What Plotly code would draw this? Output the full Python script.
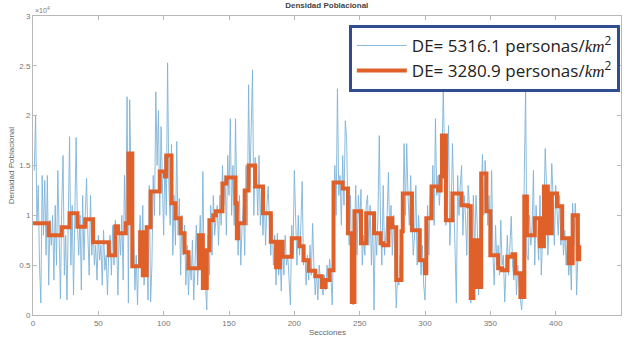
import plotly.graph_objects as go

# Blue series (x10^4 personas/km^2), sections 1..418
blue = [
    1.45, 2.0, 0.9, 1.3, 0.5, 0.12, 1.4, 0.8, 1.35, 0.6,
    1.4, 0.3, 0.95, 0.7, 1.0, 0.35, 1.1, 0.5, 1.45, 0.9,
    0.16, 1.1, 1.6, 0.4, 0.8, 0.15, 1.2, 1.79, 0.5, 1.1,
    0.2, 1.3, 1.78, 0.9, 0.6, 1.0, 0.25, 1.2, 0.55, 1.0,
    1.37, 0.8, 0.4, 1.2, 0.6, 0.9, 0.5, 0.7, 0.35, 0.8,
    0.55, 0.7, 0.3, 0.85, 0.45, 0.6, 0.2, 0.65, 0.8, 0.4,
    0.9, 0.5, 0.95, 0.75, 0.2, 0.9, 0.6, 1.0, 0.35, 1.4,
    0.8, 2.19, 0.12, 2.16, 1.3, 0.5, 0.9, 0.25, 0.6, 0.1,
    0.7, 1.0, 0.5, 1.1, 0.3, 0.6, 0.9, 0.15, 1.3, 0.13,
    0.5, 1.4, 1.0, 2.24, 1.5, 2.05, 1.0, 1.89, 1.3, 0.8,
    1.6, 1.0, 2.53, 1.3, 0.9, 1.71, 0.6, 1.2, 0.7, 1.74,
    0.8, 1.17, 0.4, 1.0, 0.6, 0.9, 0.3, 0.7, 0.2, 0.6,
    0.35, 0.75, 0.15, 0.5, 0.9, 0.3, 0.6, 1.0, 0.5, 1.44,
    0.4, 0.3, 0.05, 0.8, 0.4, 1.1, 0.6, 1.2, 0.8, 1.0,
    1.1, 0.7, 1.2, 0.9, 1.5, 1.1, 1.4, 0.8, 1.6, 1.2,
    1.97, 1.0, 1.5, 0.9, 1.97, 1.1, 0.6, 1.2, 0.5, 0.9,
    1.1, 0.6, 1.5, 0.9, 2.31, 1.3, 1.8, 2.46, 1.0, 1.58,
    1.45, 1.0, 1.6, 0.9, 1.3, 0.8, 1.2, 0.7, 1.1, 1.29,
    0.9, 0.6, 1.0, 0.5, 0.8, 0.3, 0.82, 0.4, 0.6, 0.24,
    0.7, 0.4, 0.8, 0.5, 0.6, 0.3, 0.1, 0.9, 0.6, 1.45,
    0.8, 0.5, 1.0, 0.6, 0.9, 1.34, 0.5, 0.7, 0.3, 0.6,
    0.35, 0.7, 0.4, 0.92, 0.5, 0.2, 0.45, 0.15, 0.5, 0.35,
    0.3, 0.2, 0.4, 0.25, 0.5, 0.35, 0.56, 0.4, 0.1, 0.9,
    1.5, 1.0, 2.27, 1.2, 1.4, 0.9, 1.6, 1.1, 1.95, 1.78,
    1.0, 0.7, 1.2, 0.3, 0.1, 0.8, 1.3, 0.6, 1.2, 0.9,
    1.26, 0.5, 0.8, 0.6, 1.1, 1.2, 0.7, 1.1, 0.5, 1.0,
    0.05, 0.9, 0.6, 1.0, 1.80, 0.9, 0.5, 1.3, 0.6, 0.8,
    1.0, 1.43, 0.8, 1.1, 0.6, 1.0, 0.5, 0.07, 0.4, 0.3,
    0.6, 0.4, 0.9, 1.72, 1.0, 1.72, 1.2, 0.9, 1.4, 1.0,
    0.6, 0.8, 1.3, 0.5, 1.0, 0.8, 0.4, 0.7, 0.3, 0.15,
    0.8, 1.1, 0.6, 1.2, 1.0, 1.5, 0.9, 1.97, 1.2, 1.4,
    1.1, 1.3, 1.6, 2.26, 1.4, 0.9, 1.2, 1.90, 0.7, 1.0,
    1.72, 1.2, 0.9, 0.12, 1.4, 1.0, 1.3, 1.5, 0.8, 1.2,
    1.0, 0.6, 1.3, 1.1, 0.12, 0.3, 1.2, 0.6, 1.2, 0.9,
    0.2, 0.5, 1.2, 1.61, 1.0, 1.55, 1.3, 0.9, 1.2, 0.8,
    1.45, 0.6, 0.3, 0.9, 0.5, 0.7, 0.4, 0.95, 0.5, 0.6,
    0.13, 0.5, 0.8, 0.4, 0.7, 0.99, 0.5, 0.35, 0.6, 0.2,
    0.5, 0.3, 0.15, 0.05, 0.3, 1.4, 2.26, 0.6, 0.55, 1.0,
    0.7, 0.9, 1.45, 0.5, 1.1, 0.8, 0.55, 1.2, 0.4, 0.8,
    1.0, 1.67, 1.3, 0.6, 0.9, 1.0, 1.52, 1.2, 0.7, 1.3,
    1.0, 0.8, 1.2, 0.7, 0.9, 0.6, 0.85, 0.5, 0.75, 0.4,
    0.6, 0.25, 1.12, 0.7, 1.12, 0.2, 0.6, 0.8,
]
sections = list(range(1, len(blue) + 1))

# Orange step series: start of each step (section) and its level (x10^4)
step_start = [
    0, 12, 22, 28, 34, 40, 46, 58, 63, 65, 71, 73, 76, 82, 84, 87, 90, 97,
    101, 102, 106, 109, 113, 116, 119, 127, 130, 133, 135, 138, 140, 145,
    148, 155, 156, 157, 162, 165, 170, 176, 182, 186, 189, 191, 198, 204,
    207, 211, 216, 221, 224, 227, 230, 237, 241, 244, 246, 251, 255, 261,
    266, 268, 272, 275, 278, 282, 283, 290, 296, 300, 301, 305, 310, 312,
    313, 316, 321, 328, 333, 335, 337, 340, 343, 347, 350, 356, 359, 363,
    367, 369, 373, 376, 378, 384, 388, 391, 394, 397, 401, 405, 410, 413,
    417, 418,
]
step_level = [
    0.92, 0.80, 0.88, 1.02, 0.886, 0.96, 0.73, 0.60, 0.89, 0.82, 0.92, 1.62,
    0.49, 0.83, 0.40, 0.88, 1.24, 1.44, 1.39, 1.60, 1.12, 0.97, 0.82, 0.63,
    0.47, 0.80, 0.27, 0.65, 0.95, 1.00, 1.04, 1.32, 1.38, 1.12, 0.77, 0.92,
    1.25, 1.50, 1.29, 1.02, 0.735, 0.48, 0.735, 0.585, 0.77, 0.69, 0.55,
    0.445, 0.39, 0.28, 0.35, 0.45, 1.33, 1.27, 0.82, 0.13, 1.04, 0.72, 1.02,
    0.82, 0.72, 0.70, 0.97, 0.88, 0.35, 0.84, 1.22, 0.85, 0.55, 0.42, 0.97,
    1.29, 1.25, 1.39, 1.80, 0.95, 1.22, 1.10, 1.09, 0.17, 0.75, 0.28, 1.42,
    1.04, 0.60, 0.47, 0.45, 0.585, 0.61, 0.42, 0.18, 1.19, 0.80, 0.97, 0.69,
    1.29, 0.82, 1.22, 1.09, 0.77, 0.52, 1.00, 0.56, 0.70,
]

x_ticks = [0, 50, 100, 150, 200, 250, 300, 350, 400, 450]
y_ticks = [0, 0.5, 1, 1.5, 2, 2.5, 3]
y_tick_text = ["0", "0.5", "1", "1.5", "2", "2.5", "3"]

km2 = ("<span style=\"font-family:'Liberation Serif'\"><i>km</i></span>"
       "<sup>2</sup>")
name_blue = "DE= 5316.1 personas/" + km2
name_orange = "DE= 3280.9 personas/" + km2

fig = go.Figure()
fig.add_trace(go.Scatter(
    x=sections, y=blue, mode="lines", name=name_blue,
    line=dict(color="#7fb3d8", width=0.9),
))
fig.add_trace(go.Scatter(
    x=step_start, y=step_level, mode="lines", name=name_orange,
    line=dict(color="#e0602a", width=4, shape="hv"),
))

axis_common = dict(
    showgrid=False, zeroline=False, showline=True, mirror="ticks",
    linecolor="#b8b8b8", linewidth=1, ticks="inside", ticklen=4,
    tickcolor="#b8b8b8", automargin=False,
    tickfont=dict(size=8, color="#777777", family="Liberation Sans"),
)

small = dict(size=8, color="#666666", family="Liberation Sans")

fig.update_layout(
    width=626, height=341,
    margin=dict(l=33, r=5, t=16, b=26),
    paper_bgcolor="white", plot_bgcolor="white",
    showlegend=True,
    title=dict(text="<b>Densidad Poblacional</b>", x=0.522, xanchor="center",
               y=0.993, yanchor="top",
               font=dict(size=8, color="#444444", family="Liberation Sans")),
    xaxis=dict(range=[0, 450], tickvals=x_ticks, **axis_common),
    yaxis=dict(range=[0, 3], tickvals=y_ticks, ticktext=y_tick_text,
               **axis_common),
    legend=dict(
        x=0.998, y=0.97, xanchor="right", yanchor="top",
        bgcolor="white", bordercolor="#2f4d8f", borderwidth=3,
        font=dict(size=17, color="#222222", family="Open Sans"),
        itemwidth=50, tracegroupgap=0,
    ),
    annotations=[
        dict(text="×10<sup>4</sup>", xref="paper", yref="paper", x=0.0,
             y=1.0, xanchor="left", yanchor="bottom", showarrow=False,
             font=dict(size=7, color="#777777", family="Liberation Sans")),
        dict(text="Secciones", xref="paper", yref="paper", x=0.5, y=-0.06,
             xanchor="center", yanchor="middle", showarrow=False, font=small),
        dict(text="Densidad Poblacional", xref="paper", yref="paper",
             x=-0.036, y=0.5, xanchor="center", yanchor="middle",
             textangle=-90, showarrow=False, font=small),
    ],
)

fig.write_html("out.html", config={"displayModeBar": False},
               post_script="document.body.style.margin='0';")
